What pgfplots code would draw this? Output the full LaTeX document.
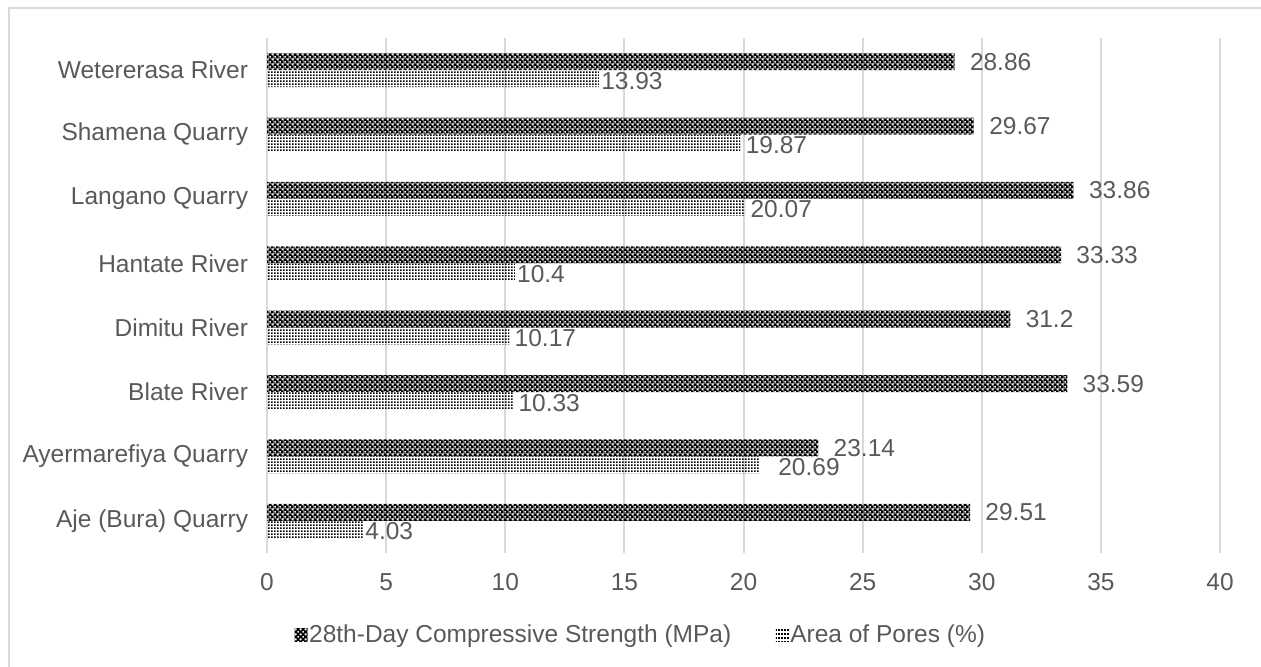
\documentclass[border=0pt]{standalone}
\usepackage{fontspec}
\setmainfont{Liberation Sans}
\usepackage{pgfplots}
\usepackage{pgfplotstable}
\pgfplotsset{compat=1.18}
\usetikzlibrary{patterns}

\definecolor{txtgray}{HTML}{595959}
\definecolor{gridgray}{HTML}{D9D9D9}

% dark checkerboard (black tile with two small holes) for the strength bars
\pgfdeclarepatternformonly{checker}{\pgfqpoint{0pt}{0pt}}{\pgfqpoint{2.4pt}{2.4pt}}{\pgfqpoint{2.4pt}{2.4pt}}{%
  \pgfseteorule
  \pgfpathrectangle{\pgfqpoint{0pt}{0pt}}{\pgfqpoint{2.4pt}{2.4pt}}%
  \pgfpathrectangle{\pgfqpoint{0.15pt}{0.15pt}}{\pgfqpoint{0.9pt}{0.9pt}}%
  \pgfpathrectangle{\pgfqpoint{1.35pt}{1.35pt}}{\pgfqpoint{0.9pt}{0.9pt}}%
  \pgfusepath{fill}}
% small dot grid for the pore-area bars
\pgfdeclarepatternformonly{finedots}{\pgfqpoint{0pt}{0pt}}{\pgfqpoint{1.7pt}{1.7pt}}{\pgfqpoint{1.7pt}{1.7pt}}{%
  \pgfpathrectangle{\pgfqpoint{0pt}{0pt}}{\pgfqpoint{1pt}{1pt}}%
  \pgfusepath{fill}}

% i: category index, s: strength (MPa), p: area of pores (%), dx: label offset (pt)
\pgfplotstableread{
i s     p     dx
0 29.51 4.03  1
1 23.14 20.69 9
2 33.59 10.33 2.5
3 31.2  10.17 2.5
4 33.33 10.4  1
5 33.86 20.07 2.5
6 29.67 19.87 2.5
7 28.86 13.93 1
}\sanddata

\newcommand{\lblfont}{\fontsize{12.25}{14}\selectfont}

\begin{document}
\begin{tikzpicture}
\useasboundingbox (0pt,0pt) rectangle (630.5pt,333pt);
\draw[line width=1pt, gridgray] (4.25pt,-20pt) -- (4.25pt,328.75pt) -- (650pt,328.75pt);
\begin{axis}[
  at={(133.5pt,56.5pt)}, anchor=south west,
  scale only axis, width=476.5pt, height=257.5pt,
  xbar, bar width=8.5pt,
  xmin=0, xmax=40, ymin=-0.5, ymax=7.5,
  xtick={0,5,...,40}, ytick={0,...,7},
  yticklabels={Aje (Bura) Quarry, Ayermarefiya Quarry, Blate River, Dimitu River,
               Hantate River, Langano Quarry, Shamena Quarry, Wetererasa River},
  axis line style={draw=none},
  tick style={draw=none},
  xmajorgrids,
  major grid style={draw=gridgray, line width=1pt},
  /pgf/number format/assume math mode=true,
  ticklabel style={font=\lblfont, text=txtgray},
  yticklabel style={inner sep=0pt, xshift=-5pt},
  xticklabel style={inner sep=0pt, yshift=-10pt},
  point meta=x,
  nodes near coords,
  every node near coord/.append style={font=\lblfont, text=txtgray, anchor=west, inner sep=0pt},
  legend columns=2,
  legend style={at={(0.392,-0.159)}, anchor=center, draw=none, fill=none,
    font=\lblfont, text=txtgray, nodes={inner sep=0.75pt},
    /tikz/every even column/.append style={column sep=21.5pt}},
  legend image code/.code={\path[#1, draw=none] (0pt,-3.25pt) rectangle (6.5pt,3.25pt);},
]
\addplot[draw=none, pattern=checker, pattern color=black, bar shift=4.25pt,
  every node near coord/.append style={xshift=7.5pt}]
  table[x=s, y=i] {\sanddata};
\addlegendentry{28th-Day Compressive Strength (MPa)}
\addplot[draw=none, pattern=finedots, pattern color=black, bar shift=-4.25pt,
  visualization depends on={\thisrow{dx} \as \dx},
  every node near coord/.append style={xshift=\dx pt, yshift=-1pt}]
  table[x=p, y=i] {\sanddata};
\addlegendentry{Area of Pores (\%)}
\end{axis}
\end{tikzpicture}
\end{document}
